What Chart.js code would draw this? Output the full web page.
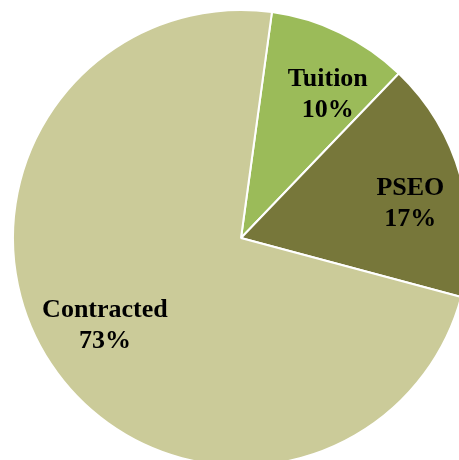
<!DOCTYPE html>
<html>
<head>
<meta charset="utf-8">
<script src="https://cdn.jsdelivr.net/npm/chart.js@4/dist/chart.umd.min.js"></script>
<style>
  html, body { margin: 0; padding: 0; background: #ffffff; width: 459px; height: 460px; overflow: hidden; position: relative; }
  #wrap { position: absolute; left: 12px; top: 9px; width: 458px; height: 458px; }
</style>
</head>
<body>
<div id="wrap"><canvas id="c" width="458" height="458"></canvas></div>
<script>
const categories = ['Tuition', 'PSEO', 'Contracted'];
const shares = [10, 17, 73];
const sliceColors = ['#9BBB59', '#77773A', '#CBCB99'];

const labelPlugin = {
  id: 'sliceLabels',
  afterDatasetsDraw(chart) {
    const ctx = chart.ctx;
    const meta = chart.getDatasetMeta(0);
    const total = shares.reduce((a, b) => a + b, 0);
    ctx.save();
    ctx.fillStyle = '#000000';
    ctx.font = 'bold 26px "Liberation Serif", "Times New Roman", serif';
    ctx.textAlign = 'center';
    ctx.textBaseline = 'middle';
    meta.data.forEach((arc, i) => {
      const p = arc.getProps(['x', 'y', 'startAngle', 'endAngle', 'outerRadius'], true);
      const mid = (p.startAngle + p.endAngle) / 2 + 0.05;
      const r = p.outerRadius * 0.73;
      const cx = p.x + Math.cos(mid) * r + 7;
      const cy = p.y + Math.sin(mid) * r + 1;
      const pct = Math.round(shares[i] / total * 100) + '%';
      ctx.fillText(categories[i], cx, cy - 14);
      ctx.fillText(pct, cx, cy + 17);
    });
    ctx.restore();
  }
};

new Chart(document.getElementById('c'), {
  type: 'pie',
  data: {
    labels: categories,
    datasets: [{
      data: shares,
      backgroundColor: sliceColors,
      borderColor: '#ffffff',
      borderWidth: 2
    }]
  },
  options: {
    responsive: false,
    animation: false,
    rotation: 7.8,
    layout: { padding: 0 },
    plugins: {
      legend: { display: false },
      tooltip: { enabled: false }
    }
  },
  plugins: [labelPlugin]
});
</script>
</body>
</html>
